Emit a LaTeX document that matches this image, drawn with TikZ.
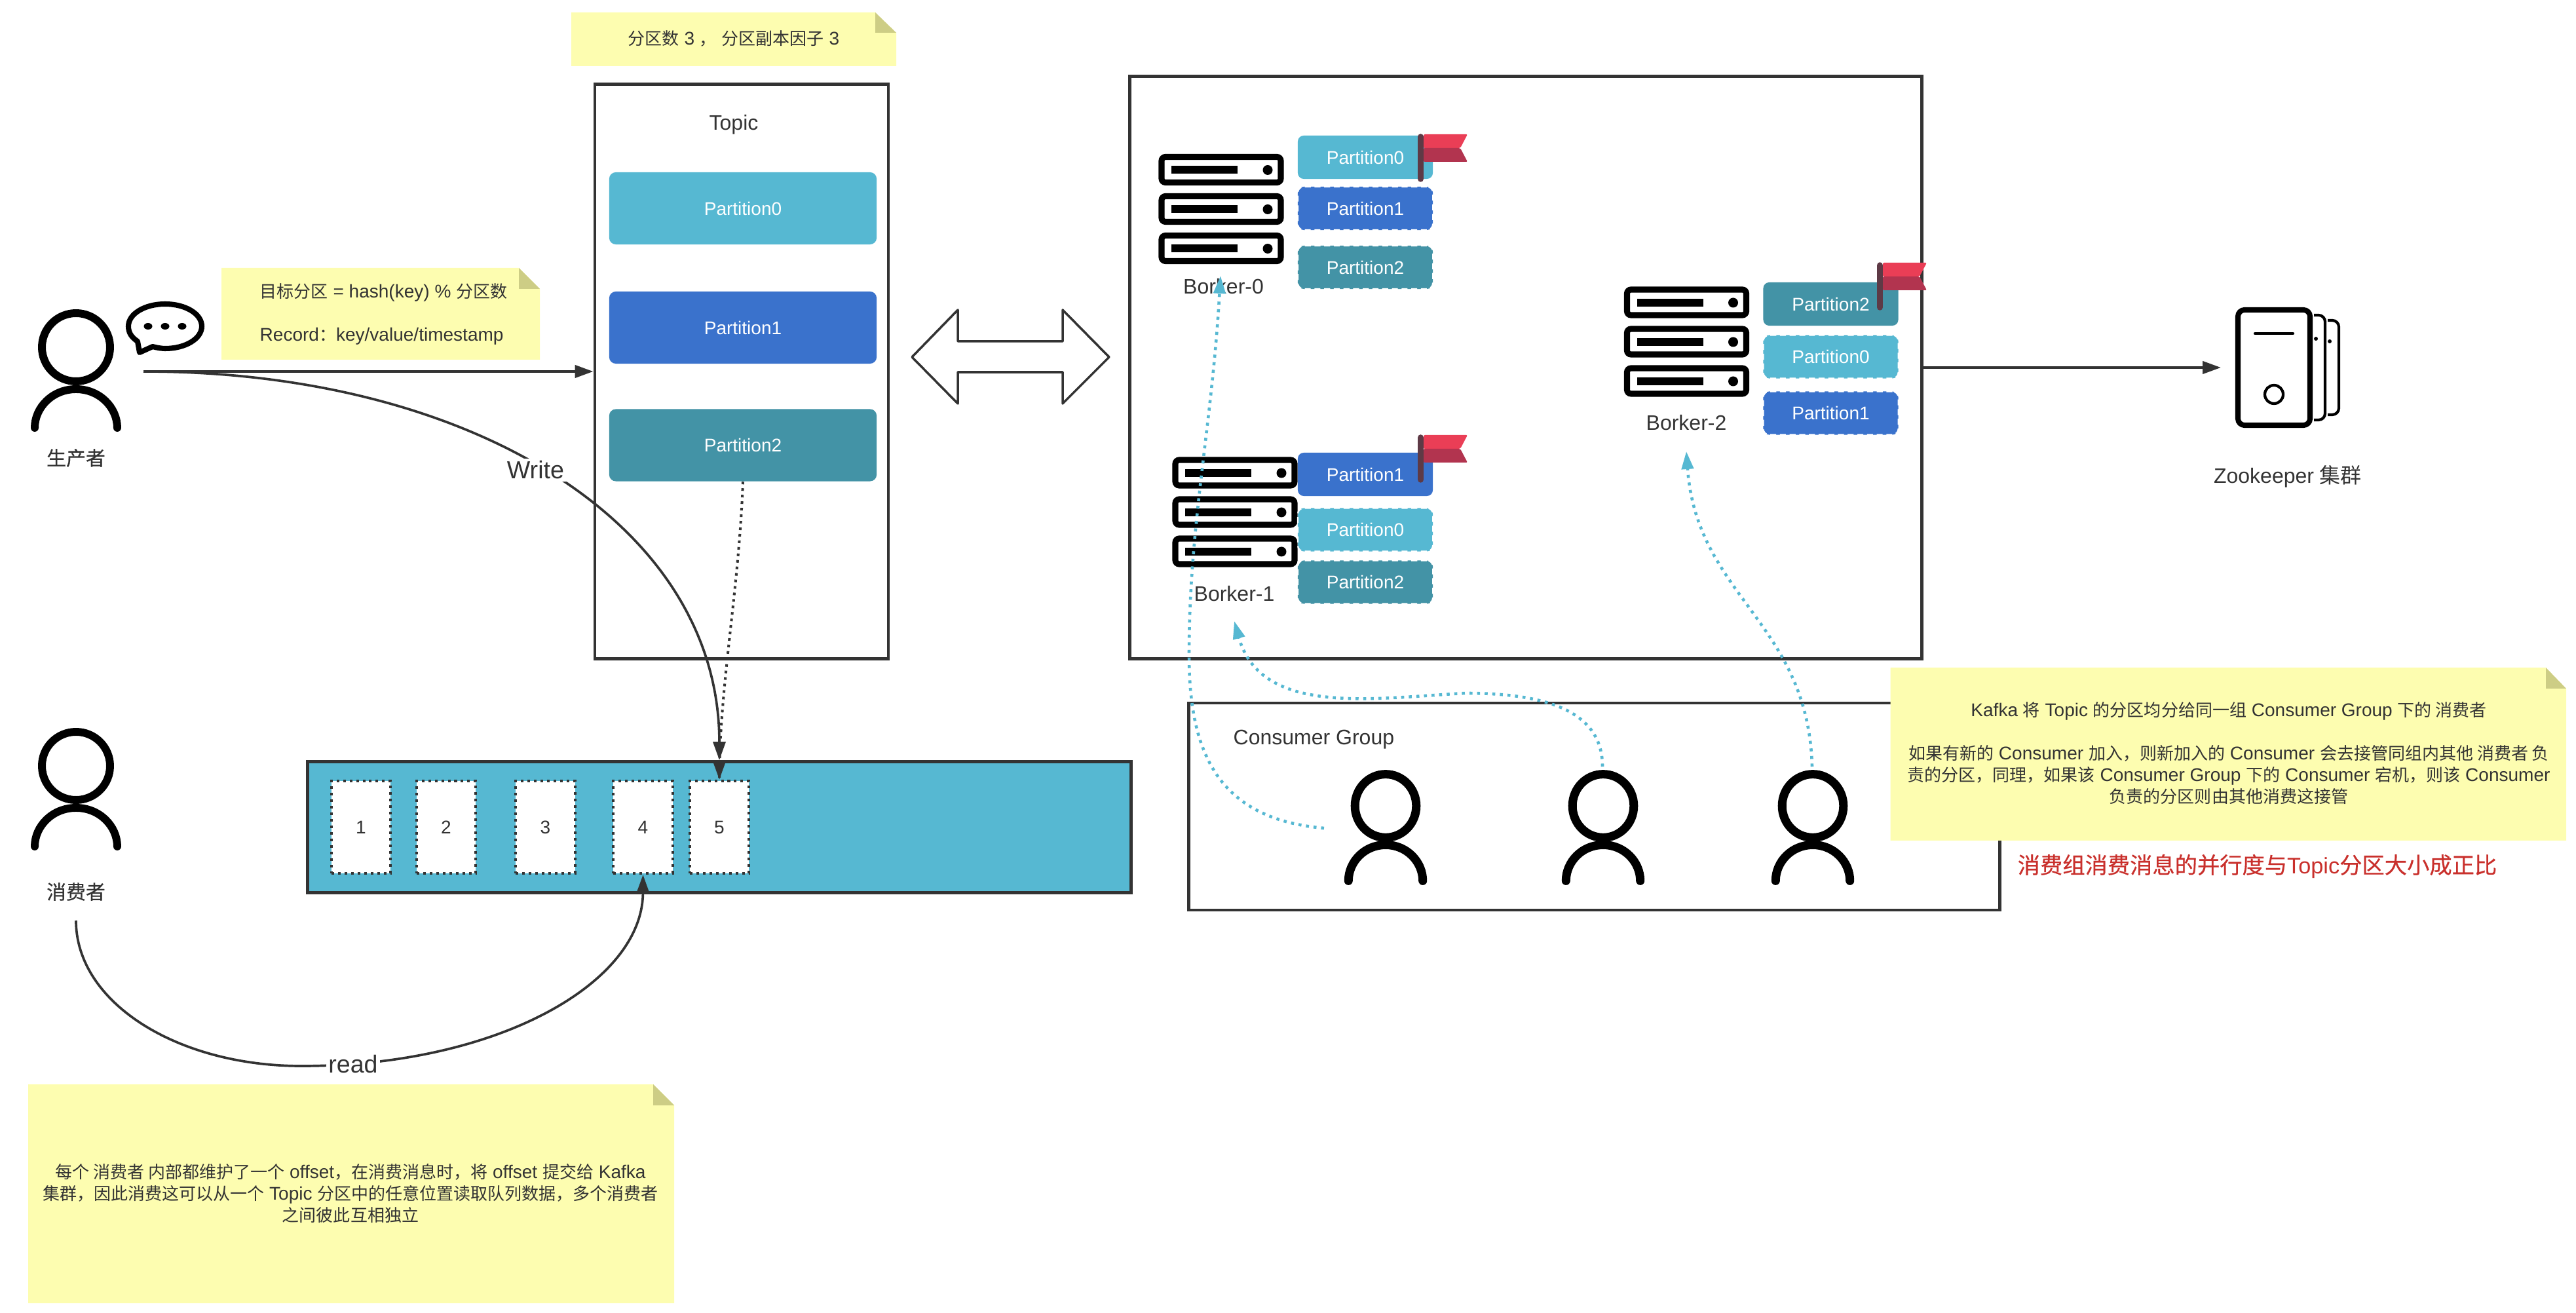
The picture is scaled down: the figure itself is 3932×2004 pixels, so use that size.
\documentclass[tikz,border=0pt]{standalone}
\usepackage{fontspec}
\setmainfont{Liberation Sans}
\newfontfamily\cjk{Noto Sans CJK SC}
\newfontfamily\cjkb[FakeBold=.5]{Noto Sans CJK SC}
\newcommand\zh[1]{{\cjk #1}}
\newcommand\nz[1]{{\cjk\fontsize{7.4}{9.39}\selectfont #1}}
\usetikzlibrary{arrows.meta}
\definecolor{ink}{HTML}{333333}
\definecolor{notey}{HTML}{FDFDB0}
\definecolor{foldy}{HTML}{CDCD85}
\definecolor{pcyan}{HTML}{56B8D2}
\definecolor{pblue}{HTML}{3A72CC}
\definecolor{pteal}{HTML}{4393A6}
\definecolor{flagtop}{HTML}{EA3E56}
\definecolor{flagbot}{HTML}{B2344F}
\definecolor{flagpole}{HTML}{5E3A46}
\definecolor{redtxt}{HTML}{C9302C}
\newcommand\sticky[6]{%
  \fill[notey] (#1,#2) -- (#5,#2) -- (#3,#6) -- (#3,#4) -- (#1,#4) -- cycle;
  \fill[foldy] (#5,#2) -- (#3,#6) -- (#5,#6) -- cycle;}
\tikzset{
  small/.style={font=\fontsize{7.97}{9.39}\selectfont,text=ink,inner sep=0pt},
  label/.style={font=\fontsize{9.1}{11}\selectfont,text=ink,inner sep=0pt},
  frame/.style={draw=ink,line width=1.3pt,fill=white,minimum width=#1,inner sep=0pt},
  topicpart/.style={fill=#1,rounded corners=.1cm,minimum width=4.08cm,minimum height=1.10cm,inner sep=0pt,text=white,font=\fontsize{7.97}{9.39}\selectfont},
  brokerpart/.style={fill=#1,rounded corners=.09cm,minimum width=2.06cm,minimum height=.66cm,inner sep=0pt,text=white,font=\fontsize{7.97}{9.39}\selectfont},
  replica/.style={brokerpart=#1,draw=white,line width=.6pt,dash pattern=on 2.6pt off 1.6pt},
  cell/.style={draw=ink,fill=white,line width=1.14pt,dash pattern=on 1.14pt off 1.7pt,minimum width=.90cm,minimum height=1.41cm,inner sep=0pt,small},
  flow/.style={draw=ink,line width=1.2pt,-{Triangle[length=.28cm,width=.19cm]}},
  curveflow/.style={draw=ink,line width=1.05pt,-{Triangle[length=.28cm,width=.19cm]}},
  assign/.style={draw=pcyan,line width=1.3pt,dash pattern=on 1.3pt off 2pt,-{Triangle[length=.27cm,width=.18cm,fill=pcyan]}},
  edgelabel/.style={fill=white,inner sep=1pt,font=\fontsize{10.7}{12}\selectfont,text=ink},
  person/.pic={
    \draw[line width=#1pt,black] (0,0) circle (52);
    \draw[line width=#1pt,black,line cap=round] (-63,123) .. controls (-63,92) and (-36,64) .. (0,64) .. controls (36,64) and (63,92) .. (63,123);
  },
  serverrow/.pic={
    \draw[black,fill=white,line width=2.6pt,rounded corners=.06cm] (5,5) rectangle (187,44);
    \fill[black] (20,19) rectangle (121,31);
    \fill[black] (167,25) circle (7.5);
  },
  server/.pic={
    \pic at (0,0) {serverrow};
    \pic at (0,60) {serverrow};
    \pic at (0,120) {serverrow};
  },
  redflag/.pic={
    \fill[flagtop,rounded corners=.02cm] (9,0) -- (76,0) -- (65,21) -- (9,21) -- cycle;
    \fill[flagbot,rounded corners=.02cm] (9,21) -- (65,21) -- (76,42) -- (9,42) -- cycle;
    \draw[flagpole,line width=2.7pt,line cap=round] (4.5,4) -- (4.5,68);
  }
}
\begin{document}
\begin{tikzpicture}[x=.01cm,y=-.01cm]
\useasboundingbox (0,0) rectangle (3932,2004);

% notes on the left and top
\sticky{872}{19}{1368}{101}{1336}{50}
\node[small] (noteA) at (1120,59) {\nz{分区数} 3 \nz{，} \nz{分区副本因子} 3};
\sticky{338}{409}{824}{549}{792}{441}
\node[small,align=left,anchor=west] (noteB) at (396,479) {\nz{目标分区} = hash(key) \% \nz{分区数}\\[9.39pt]Record\nz{：}key/value/timestamp};

% Topic
\node[frame=4.48cm,minimum height=8.76cm] (topic) at (1132,567) {};
\node[label] (topiclabel) at (1120,190) {Topic};
\node[topicpart=pcyan] (tp0) at (1134,318) {Partition0};
\node[topicpart=pblue] (tp1) at (1134,500) {Partition1};
\node[topicpart=pteal] (tp2) at (1134,679.5) {Partition2};

% Producer
\pic at (116,530) {person=3.4};
\node[label,font=\fontsize{8.5}{10}\selectfont\cjkb] (producer) at (116,699) {生产者};
\coordinate (prodout) at (219,567);
\draw[black,line width=2.3pt,line join=round] (213,538) -- (233,529) .. controls (240,531) and (248,532) .. (252,532) .. controls (283,532) and (308,517) .. (308,498) .. controls (308,479) and (283,464) .. (252,464) .. controls (221,464) and (196,479) .. (196,498) .. controls (196,508) and (201,515) .. (210,521) -- cycle;
\fill[black] (226,498) ellipse (6.5 and 5) (252,498) ellipse (6.5 and 5) (278,498) ellipse (6.5 and 5);

% Queue
\node[draw=ink,line width=1.3pt,fill=pcyan,minimum width=12.56cm,minimum height=2.00cm,inner sep=0pt] (queue) at (1098,1262.5) {};
\node[cell] (c1) at (551,1262.5) {1};
\node[cell] (c2) at (681,1262.5) {2};
\node[cell] (c3) at (832.5,1262.5) {3};
\node[cell] (c4) at (981.5,1262.5) {4};
\node[cell] (c5) at (1098,1262.5) {5};

% Consumer
\pic at (116,1169) {person=3.4};
\node[label,font=\fontsize{8.5}{10}\selectfont\cjkb] (consumer) at (116,1361) {消费者};
\coordinate (consout) at (116,1405);

% flows left
\coordinate (qtop) at (c5.north |- queue.north);
\draw[flow] (prodout) -- (topic.west);
\draw[draw=ink,line width=1.14pt,dash pattern=on 1.14pt off 1.7pt] (tp2.south) .. controls (1128,900) and (1098,1050) .. (c5.north);
\draw[-{Triangle[length=.28cm,width=.19cm]},draw=ink,line width=1pt] (1098,1163) -- (c5.north);
\draw[curveflow] (prodout) .. controls (720,567) and (1098,800) .. node[pos=.47,edgelabel,yshift=-.07cm] (writelabel) {Write} (qtop);
\draw[curveflow] (consout) .. controls (116,1530) and (270,1627) .. (460,1627) .. controls (760,1627) and (981,1500) .. node[pos=.09,edgelabel] (readlabel) {read} (c4.south);

% note at the bottom
\sticky{43}{1655}{1029}{1989}{997}{1687}
\node[small,align=center] (noteC) at (535,1821) {\nz{每个 消费者 内部都维护了一个} offset\nz{，在消费消息时，将} offset \nz{提交给} Kafka\\\nz{集群，因此消费这可以从一个} Topic \nz{分区中的任意位置读取队列数据，多个消费者}\\\nz{之间彼此互相独立}};

% Double arrow
\draw[ink,line width=1pt,line join=round] (1392,545) -- (1462,473) -- (1462,521) -- (1622,521) -- (1622,473) -- (1693,545) -- (1622,616) -- (1622,568) -- (1462,568) -- (1462,616) -- cycle;

% Broker frame
\node[frame=12.08cm,minimum height=8.88cm] (brokers) at (2329,561) {};

% Broker 0
\pic at (1768,234.5) {server};
\node[label] (b0) at (1867.5,437) {Borker-0};
\node[brokerpart=pcyan] (b0p0) at (2084,240) {Partition0};
\node[replica=pblue] (b0p1) at (2084,318) {Partition1};
\node[replica=pteal] (b0p2) at (2084,408) {Partition2};
\pic at (2164,205) {redflag};

% Broker 1
\pic at (1789,697) {server};
\node[label] (b1) at (1884,906) {Borker-1};
\node[brokerpart=pblue] (b1p0) at (2084,724) {Partition1};
\node[replica=pcyan] (b1p1) at (2084,808.5) {Partition0};
\node[replica=pteal] (b1p2) at (2084,888.5) {Partition2};
\pic at (2164,664) {redflag};

% Broker 2
\pic at (2478.5,437) {server};
\node[label] (b2) at (2574,645) {Borker-2};
\node[brokerpart=pteal] (b2p0) at (2794.5,464) {Partition2};
\node[replica=pcyan] (b2p1) at (2794.5,544.5) {Partition0};
\node[replica=pblue] (b2p2) at (2794.5,630.5) {Partition1};
\pic at (2865,401) {redflag};

% Zookeeper
\coordinate (zkin) at (3390,561);
\draw[flow] (brokers.east) -- (zkin);
\draw[black,line width=2.3pt,rounded corners=.1cm] (3416,473) rectangle (3526,649);
\draw[black,line width=1.2pt,line cap=round] (3442,509) -- (3500,509);
\draw[black,line width=1.2pt] (3471,602) circle (14);
\draw[black,line width=1.2pt,rounded corners=.1cm] (3532,481) -- (3549,481) -- (3549,641) -- (3532,641);
\fill[black] (3535,517) circle (3);
\draw[black,line width=1.2pt,rounded corners=.1cm] (3553,489) -- (3570,489) -- (3570,633) -- (3553,633);
\fill[black] (3556,521) circle (3);
\node[label] (zk) at (3492,727) {Zookeeper \zh{集群}};

% Consumer group
\node[frame=12.37cm,minimum height=3.16cm] (group) at (2433.5,1231) {};
\node[label,anchor=west] (grouplabel) at (1882,1129) {Consumer Group};
\pic[xscale=.9,yscale=.93] at (2115,1230) {person=3.7};
\pic[xscale=.9,yscale=.93] at (2447,1230) {person=3.7};
\pic[xscale=.9,yscale=.93] at (2767,1230) {person=3.7};
\coordinate (g1) at (2021,1264);
\coordinate (g2) at (2446,1170);
\coordinate (g3) at (2766,1170);
\coordinate (t0) at (1863,421);
\coordinate (t1) at (1884,948);
\coordinate (t2) at (2574,689);
\draw[assign] (g1) .. controls (1860,1250) and (1815,1150) .. (1815,1000) .. controls (1815,800) and (1850,650) .. (t0);
\draw[assign] (g2) .. controls (2446,1090) and (2370,1058) .. (2237,1058) .. controls (2100,1065) and (1925,1095) .. (t1);
\draw[assign] (g3) .. controls (2760,950) and (2590,910) .. (t2);

% Note right
\sticky{2885.5}{1019}{3917}{1283}{3886}{1051}
\node[small,align=center] (noteD) at (3402,1150) {Kafka \nz{将} Topic \nz{的分区均分给同一组} Consumer Group \nz{下的 消费者}\\[9.39pt]\nz{如果有新的} Consumer \nz{加入，则新加入的} Consumer \nz{会去接管同组内其他 消费者 负}\\\nz{责的分区，同理，如果该} Consumer Group \nz{下的} Consumer \nz{宕机，则该} Consumer\\\nz{负责的分区则由其他消费这接管}};
\node[inner sep=0pt,text=redtxt,font=\fontsize{9.75}{12}\selectfont,anchor=west] (redline) at (3079,1322) {{\cjkb 消费组消费消息的并行度与}Topic{\cjkb 分区大小成正比}};
\end{tikzpicture}
\end{document}
